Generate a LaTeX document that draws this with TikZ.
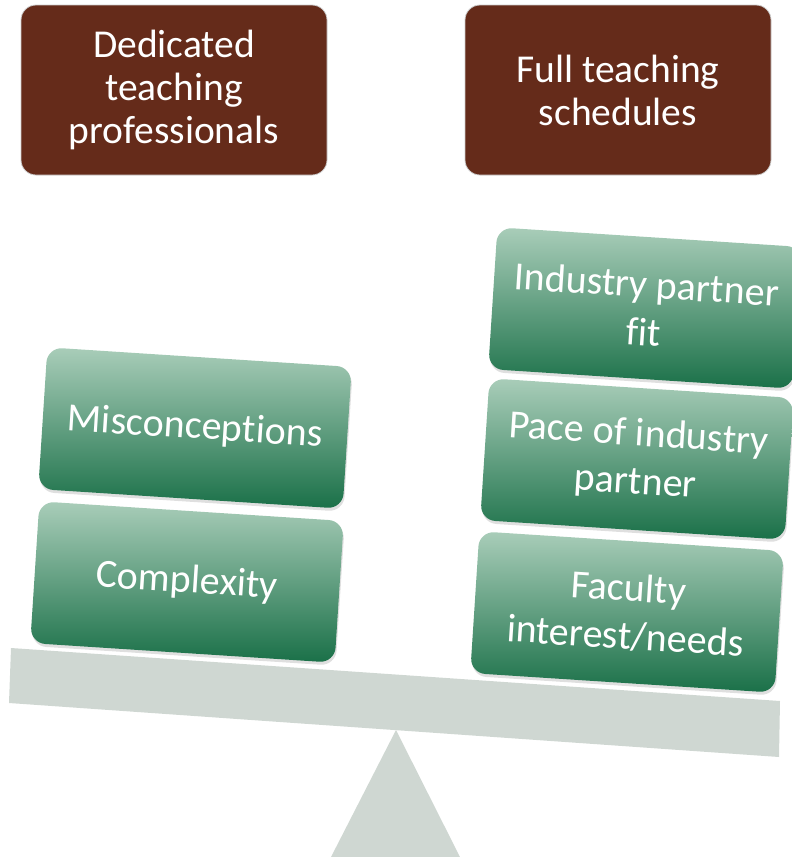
\documentclass[tikz,border=0pt]{standalone}
\usepackage{fontspec}
\setmainfont{Carlito}[Ligatures=NoCommon]
\usetikzlibrary{positioning,shadows}
\definecolor{brownbox}{RGB}{101,43,26}
\definecolor{greenlight}{RGB}{169,205,185}
\definecolor{greenmid}{RGB}{122,171,146}
\definecolor{greendark}{RGB}{26,112,72}
\definecolor{beamgray}{RGB}{207,215,210}
\tikzset{topbox/.style={fill=brownbox,draw=black!20,line width=0.8pt,rounded corners=15pt,minimum width=306pt,minimum height=170pt,align=center,text=white,font=\fontsize{39.5}{43}\selectfont},
         weight/.style={top color=greenlight,middle color=greenmid,bottom color=greendark,rounded corners=15pt,minimum width=305pt,minimum height=142pt,align=center,text=white,font=\fontsize{40}{48}\selectfont,rotate=-3.7,drop shadow={opacity=0.25,shadow xshift=1pt,shadow yshift=-3pt}}
}

\begin{document}
\begin{tikzpicture}[x=1pt,y=-1pt]
\useasboundingbox (0,0) rectangle (792,857);

%Shape: beam
\fill [beamgray] (11,648) -- (780,701) -- (779,757) -- (9,703) -- cycle ;
%Shape: fulcrum
\fill [beamgray] (396,730) -- (460,857) -- (331,857) -- cycle ;

% Top nodes
\node [topbox] (dedicated) at (174,90) {Dedicated\\teaching\\professionals};
\node [topbox] (schedules) at (618,90) {Full teaching\\schedules};

% Left weights
\node [weight] (complexity) at (187,582) {Complexity};
\node [weight] (misconceptions) at (195,428) {Misconceptions};

% Right weights
\node [weight] (faculty) at (627,612) {Faculty\\interest/needs};
\node [weight] (pace) at (637,459) {Pace of industry\\partner};
\node [weight] (fit) at (645,308) {Industry partner\\fit};

\end{tikzpicture}
\end{document}
